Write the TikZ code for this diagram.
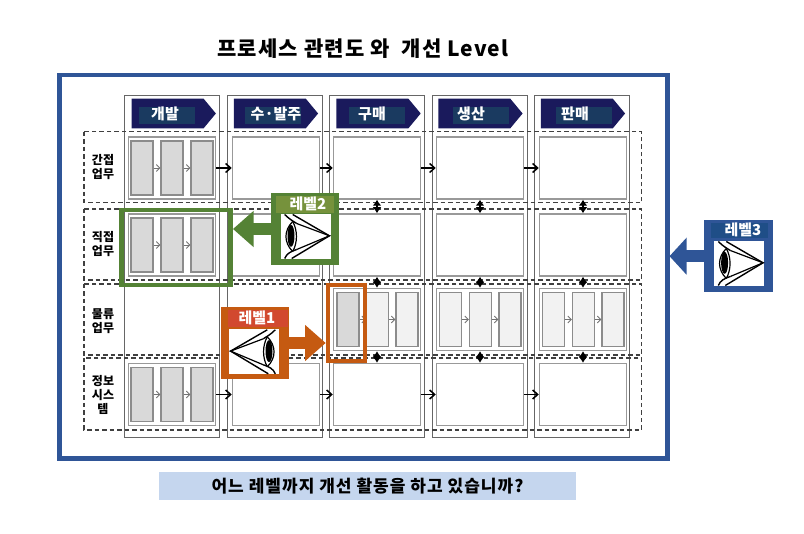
\documentclass[tikz,border=0pt]{standalone}
\usepackage{fontspec}
\setmainfont{Noto Sans CJK KR}
\usetikzlibrary{arrows.meta}
\definecolor{hdrnavy}{HTML}{1A1A5C}
\definecolor{hdrteal}{HTML}{1A3A60}
\definecolor{lvblue}{HTML}{2F5597}
\definecolor{lvnavy}{HTML}{1F4E87}
\definecolor{lvgreen}{HTML}{548235}
\definecolor{lvlime}{HTML}{76923C}
\definecolor{lvorange}{HTML}{C55A11}
\definecolor{lvred}{HTML}{D2492F}
\definecolor{barblue}{HTML}{C5D6EE}
\tikzset{
    cellbox/.style={draw=black!40, line width=1.5pt, fill=white, minimum width=87, minimum height=62, inner sep=0},
    subbox/.style={draw=black!45, line width=1.3pt, fill=black!15, minimum width=22, minimum height=54, inner sep=0},
    lightbox/.style={subbox, fill=black!5},
    colframe/.style={draw=black!60, line width=1pt, fill=white, minimum width=95, minimum height=342, inner sep=0},
    rowdash/.style={draw=black!75, line width=1.3pt, dash pattern=on 4.5pt off 3pt},
    rowlabel/.style={font=\bfseries\fontsize{12}{14}\selectfont, align=center},
    hdrtext/.style={font=\bfseries\fontsize{15}{16}\selectfont, text=white},
    flow/.style={draw=black, line width=1.5pt, -{Straight Barb[length=5pt,width=9pt]}},
    subflow/.style={draw=black!55, line width=0.8pt, -{Straight Barb[length=3.5pt,width=7pt]}},
    updown/.style={draw=black, line width=1.2pt, {Latex[length=6pt,width=9pt]}-{Latex[length=6pt,width=9pt]}},
    lvframe/.style={minimum width=68.4, minimum height=72, inner sep=0},
    lvwindow/.style={fill=white, minimum width=50, minimum height=45, inner sep=0},
    lvtext/.style={font=\bfseries\fontsize{15}{16}\selectfont, text=white},
    blockflow/.style={line width=12pt, shorten <=-4pt},
    eyeglyph/.pic={
        \draw[line width=1.4pt] (-13,-22) -- (23.7,-0.7) -- (-14,22);
        \draw[line width=1.2pt] (-9,-13) -- (23.7,-0.7) -- (-9,13);
        \draw[line width=1.4pt] (-21,-22) .. controls (-16,-17) and (-12,-15) .. (-9,-13);
        \draw[line width=1.4pt] (-21,22) .. controls (-19,17) and (-15,15) .. (-9,13);
        \draw[line width=1.2pt] (-13,-15) .. controls (-22,-6) and (-22,6) .. (-13,15);
        \draw[line width=1.2pt] (-13,-15) .. controls (-8,-6) and (-8,6) .. (-13,15);
        \fill (-14.7,-0.7) ellipse (3.5 and 11);
    }
}
\begin{document}
\begin{tikzpicture}[x=1pt, y=-1pt]
    \useasboundingbox (0,0) rectangle (804,534);

    \def\rowa{168}
    \def\rowb{245}
    \def\rowc{319.5}
    \def\rowd{394.5}

    \draw (363.25, 267) node (outer) [draw=lvblue, line width=4.5pt, minimum width=608, minimum height=383.5, inner sep=0] {};
    \draw (363, 49) node (title) [font=\bfseries\fontsize{21}{24}\selectfont\addfontfeature{LetterSpace=5.5}] {프로세스 관련도 와~~개선 Level};
    \draw (367.5, 486) node (question) [fill=barblue, minimum width=417, minimum height=28, inner sep=0, font=\bfseries\fontsize{17}{18}\selectfont\addfontfeature{LetterSpace=6}] {어느 레벨까지 개선 활동을 하고 있습니까?};

    % columns and their headers
    \foreach \name/\x/\hx/\tx/\lx/\txt in {a/172/173.8/166.7/165/개발, b/274.5/276/273/276/수·발주, c/376.5/378.6/377/372/구매, d/479.5/480.5/481/471/생산, e/581.5/583/584/575/판매} {
        \draw (\x, 266.5) node (frame\name) [colframe] {};
        \fill[hdrnavy] (\hx-42.2, 98.7) -- ++(72, 0) -- ++(12.3, 14.8) -- ++(-12.3, 14.8) -- ++(-72, 0) -- cycle;
        \draw (\tx, 115.7) node (tag\name) [fill=hdrteal, minimum width=56, minimum height=17, inner sep=0] {};
        \draw (\lx, 114) node (head\name) [hdrtext] {\txt};
    }

    % cells
    \foreach \col/\x in {1/172, 2/276, 3/377, 4/480, 5/583} {
        \draw (\x, \rowa) node (a\col) [cellbox] {};
        \draw (\x, \rowb) node (b\col) [cellbox] {};
        \draw (\x, \rowd) node (d\col) [cellbox] {};
    }
    \foreach \col/\x in {3/377, 4/480, 5/583}
        \draw (\x, \rowc) node (c\col) [cellbox] {};

    % rows
    \draw[rowdash] (84, 131.7) rectangle (641.7, 202.7);
    \draw[rowdash] (84, 209) rectangle (641.7, 280);
    \draw[rowdash] (84, 284) rectangle (641.7, 355);
    \draw[rowdash] (84, 358) rectangle (641.7, 430);
    \draw (103, 167) node (laba) [rowlabel] {간접\\업무};
    \draw (103, 244) node (labb) [rowlabel] {직접\\업무};
    \draw (103, 321) node (labc) [rowlabel] {물류\\업무};
    \draw (103, 395) node (labd) [rowlabel] {정보\\시스\\템};

    % steps inside the cells
    \foreach \row/\y in {a/\rowa, b/\rowb, d/\rowd} {
        \draw (142, \y) node (\row p) [subbox] {};
        \draw (172, \y) node (\row q) [subbox] {};
        \draw (202, \y) node (\row r) [subbox] {};
        \draw[subflow] (\row p) -- (\row q);
        \draw[subflow] (\row q) -- (\row r);
    }
    \foreach \col/\x in {3/377, 4/480, 5/583} {
        \draw (\x-29.5, \rowc) node (c\col p) [lightbox] {};
        \draw (\x+0.5, \rowc) node (c\col q) [lightbox] {};
        \draw (\x+30, \rowc) node (c\col r) [lightbox] {};
        \draw[subflow] (c\col p) -- (c\col q);
        \draw[subflow] (c\col q) -- (c\col r);
    }
    \draw (348, \rowc) node (cfocus) [subbox] {};

    % flows between the cells
    \foreach \a/\b in {1/2, 2/3, 3/4, 4/5} {
        \draw[flow] (a\a) -- (a\b);
        \draw[flow] (d\a) -- (d\b);
    }
    \foreach \col in {3, 4, 5} {
        \draw[updown] (a\col) -- (b\col);
        \draw[updown] (b\col) -- (c\col);
        \draw[updown] (c\col) -- (d\col);
    }

    % level 1
    \draw (346.5, 322.7) node (mark1) [draw=lvorange, line width=4pt, minimum width=37.6, minimum height=76, inner sep=0] {};
    \draw (255.2, 343) node (box1) [lvframe, fill=lvorange] {};
    \draw (254.3, 351.8) node (win1) [lvwindow] {};
    \draw (257.8, 318.3) node (tag1) [fill=lvred, minimum width=60, minimum height=16.7, inner sep=0] {};
    \draw (257, 318) node (lab1) [lvtext] {레벨1};
    \draw (win1.center) pic[xscale=-1] {eyeglyph};
    \draw[lvorange, blockflow, -{Triangle[length=20.7pt,width=35pt]}] (box1.east) -- (box1.east -| mark1.west);

    % level 2
    \draw (176, 247.5) node (mark2) [draw=lvgreen, line width=4.5pt, minimum width=109.4, minimum height=74.6, inner sep=0] {};
    \draw (305, 229) node (box2) [lvframe, fill=lvgreen] {};
    \draw (305.7, 236.5) node (win2) [lvwindow] {};
    \draw (305, 204.3) node (tag2) [fill=lvlime, minimum width=58, minimum height=17.3, inner sep=0] {};
    \draw (308, 203.5) node (lab2) [lvtext] {레벨2};
    \draw (win2.center) pic {eyeglyph};
    \draw[lvgreen, blockflow, -{Triangle[length=20.7pt,width=35pt]}] (box2.west) -- (box2.west -| mark2.east);

    % level 3
    \draw (738.5, 256.2) node (box3) [lvframe, fill=lvblue] {};
    \draw (739.3, 263.5) node (win3) [lvwindow] {};
    \draw (739.5, 230.5) node (tag3) [fill=lvnavy, minimum width=57.6, minimum height=15, inner sep=0] {};
    \draw (743, 230) node (lab3) [lvtext] {레벨3};
    \draw (win3.center) pic {eyeglyph};
    \draw[lvblue, blockflow, -{Triangle[length=17pt,width=36pt]}] (box3.west) -- (box3.west -| outer.east);
\end{tikzpicture}
\end{document}
